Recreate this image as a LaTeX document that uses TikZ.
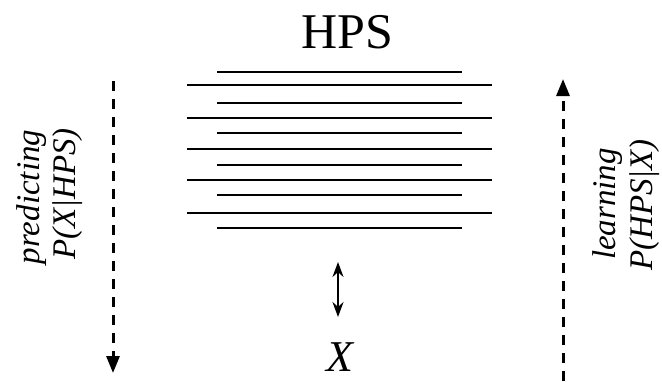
\documentclass[tikz,border=0pt]{standalone}
\usepackage{fontspec}
\setmainfont{Liberation Serif}
\usetikzlibrary{arrows.meta}
\begin{document}
\begin{tikzpicture}[x=1pt,y=-1pt,
  hline/.style={line width=2.3pt},
  flow/.style={line width=3pt,dash pattern=on 10pt off 8pt,-{Triangle[length=17pt,width=13pt]}},
  lab/.style={rotate=90,font=\fontsize{33}{36}\selectfont\itshape,inner sep=0pt},
  link/.style={line width=2pt,{Stealth[length=15pt,width=11pt]}-{Stealth[length=15pt,width=11pt]}}]
\useasboundingbox (0,0) rectangle (662,381);
\node[font=\fontsize{50}{52}\selectfont,inner sep=0pt] (hps) at (347,32) {HPS};
\foreach \y in {72,103,133,165,195,228} \draw[hline] (217,\y) -- (462,\y);
\foreach \y in {85,118,149,180,213} \draw[hline] (187,\y) -- (492,\y);
\node[font=\fontsize{44}{46}\selectfont\itshape,inner sep=0pt] (x) at (340,357) {X};
\coordinate (da) at (338,262);
\coordinate (db) at (338,317);
\draw[link] (da) -- (db);
\coordinate (lt) at (113,81);
\coordinate (lb) at (113,373);
\draw[flow] (lt) -- (lb);
\coordinate (rb) at (563,381);
\coordinate (rt) at (563,79);
\draw[flow] (rb) -- (rt);
\node[lab] (pred) at (32,197) {predicting};
\node[lab] (pxh) at (68,194) {P(X|HPS)};
\node[lab] (learn) at (608,204) {learning};
\node[lab] (phx) at (645,205) {P(HPS|X)};
\end{tikzpicture}
\end{document}
